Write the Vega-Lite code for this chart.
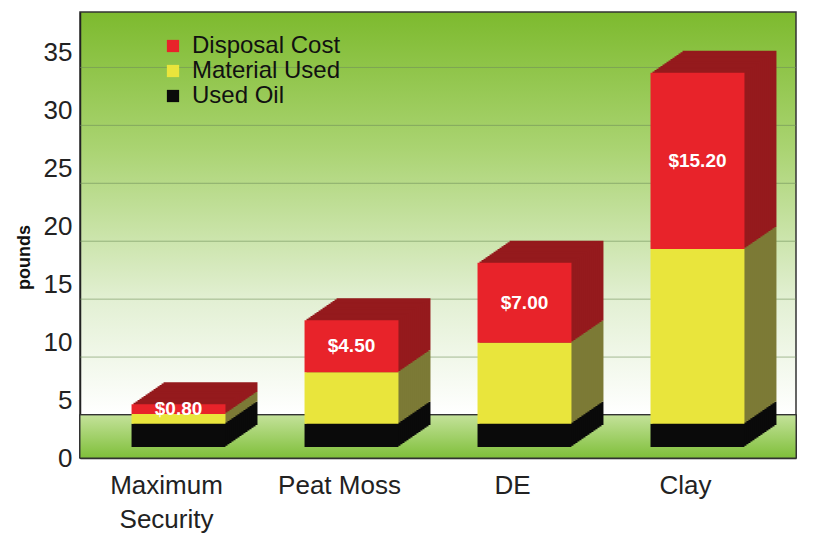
{
  "$schema": "https://vega.github.io/schema/vega-lite/v6.json",
  "width": 716,
  "height": 446,
  "autosize": "none",
  "padding": {"left": 80, "top": 12, "right": 28, "bottom": 77},
  "background": "white",
  "config": {
    "font": "Liberation Sans",
    "view": {
      "stroke": "#333",
      "strokeWidth": 1.5,
      "fill": {"gradient": "linear", "x1": 0, "y1": 0, "x2": 0, "y2": 1,
        "stops": [{"offset": 0, "color": "#7DBA2E"}, {"offset": 0.3, "color": "#A9D370"}, {"offset": 0.65, "color": "#E3F0D4"}, {"offset": 0.9, "color": "#FFFFFF"}, {"offset": 1, "color": "#FFFFFF"}]}
    }
  },
  "data": {
    "values": [
      {"cat": "Maximum Security", "type": "Used Oil", "value": 2},
      {"cat": "Maximum Security", "type": "Material Used", "value": 0.85},
      {"cat": "Maximum Security", "type": "Disposal Cost", "value": 0.85, "cost": "$0.80"},
      {"cat": "Peat Moss", "type": "Used Oil", "value": 2},
      {"cat": "Peat Moss", "type": "Material Used", "value": 4.45},
      {"cat": "Peat Moss", "type": "Disposal Cost", "value": 4.5, "cost": "$4.50"},
      {"cat": "DE", "type": "Used Oil", "value": 2},
      {"cat": "DE", "type": "Material Used", "value": 7},
      {"cat": "DE", "type": "Disposal Cost", "value": 6.9, "cost": "$7.00"},
      {"cat": "Clay", "type": "Used Oil", "value": 2},
      {"cat": "Clay", "type": "Material Used", "value": 15.1},
      {"cat": "Clay", "type": "Disposal Cost", "value": 15.2, "cost": "$15.20"}
    ]
  },
  "resolve": {"scale": {"color": "independent"}},
  "layer": [
    {
      "mark": {"type": "rect", "color": {"gradient": "linear", "x1": 0, "y1": 0, "x2": 0, "y2": 1, "stops": [{"offset": 0, "color": "#C4E29A"}, {"offset": 1, "color": "#7FBF3A"}]}, "stroke": "#333", "strokeWidth": 1},
      "encoding": {
        "y": {"datum": 0, "type": "quantitative", "scale": {"domain": [0, 38.5], "nice": false}},
        "y2": {"datum": 3.72}
      }
    },
    {
      "data": {"values": [{"v": 5}, {"v": 10}, {"v": 15}, {"v": 20}, {"v": 25}, {"v": 30}]},
      "mark": {"type": "rule", "yOffset": -43, "color": "#6F8F5A", "strokeWidth": 1, "opacity": 0.6},
      "encoding": {
        "y": {"field": "v", "type": "quantitative"}
      }
    },
    {
      "layer": [
        {"mark": {"type": "bar", "xOffset": 32, "yOffset": -33}},
        {"mark": {"type": "bar", "xOffset": 30, "yOffset": -31.625}},
        {"mark": {"type": "bar", "xOffset": 28, "yOffset": -30.25}},
        {"mark": {"type": "bar", "xOffset": 26, "yOffset": -28.875}},
        {"mark": {"type": "bar", "xOffset": 24, "yOffset": -27.5}},
        {"mark": {"type": "bar", "xOffset": 22, "yOffset": -26.125}},
        {"mark": {"type": "bar", "xOffset": 20, "yOffset": -24.75}},
        {"mark": {"type": "bar", "xOffset": 18, "yOffset": -23.375}},
        {"mark": {"type": "bar", "xOffset": 16, "yOffset": -22}},
        {"mark": {"type": "bar", "xOffset": 14, "yOffset": -20.625}},
        {"mark": {"type": "bar", "xOffset": 12, "yOffset": -19.25}},
        {"mark": {"type": "bar", "xOffset": 10, "yOffset": -17.875}},
        {"mark": {"type": "bar", "xOffset": 8, "yOffset": -16.5}},
        {"mark": {"type": "bar", "xOffset": 6, "yOffset": -15.125}},
        {"mark": {"type": "bar", "xOffset": 4, "yOffset": -13.75}},
        {"mark": {"type": "bar", "xOffset": 2, "yOffset": -12.375}}
      ],
      "encoding": {
        "x": {"field": "cat", "type": "nominal", "sort": ["Maximum Security", "Peat Moss", "DE", "Clay"], "title": null,
          "scale": {"paddingInner": 0.457, "paddingOuter": 0.298},
          "axis": {"labelAngle": 0, "ticks": false, "domain": true, "domainColor": "#222", "domainWidth": 1.5, "labelFontSize": 26, "labelColor": "#222", "labelPadding": 14, "labelOffset": -12, "labelLineHeight": 34, "labelBaseline": "top",
            "labelExpr": "datum.label == 'Maximum Security' ? ['Maximum', 'Security'] : datum.label"}},
        "y": {"field": "value", "type": "quantitative", "stack": "zero"},
        "color": {"field": "type", "type": "nominal", "scale": {"domain": ["Disposal Cost", "Material Used", "Used Oil"], "range": ["#951A1D", "#7C7A36", "#0A0A0A"]}, "legend": null},
        "order": {"field": "type", "sort": "descending"}
      }
    },
    {
      "mark": {"type": "bar", "yOffset": -11},
      "encoding": {
        "x": {"field": "cat", "type": "nominal", "sort": ["Maximum Security", "Peat Moss", "DE", "Clay"], "title": null,
          "axis": {"labelAngle": 0, "ticks": false, "domain": true, "domainColor": "#222", "domainWidth": 1.5, "labelFontSize": 26, "labelColor": "#222", "labelPadding": 14, "labelOffset": -12, "labelLineHeight": 34, "labelBaseline": "top",
            "labelExpr": "datum.label == 'Maximum Security' ? ['Maximum', 'Security'] : datum.label"}},
        "y": {"field": "value", "type": "quantitative", "stack": "zero", "title": "pounds",
          "axis": {"values": [0, 5, 10, 15, 20, 25, 30, 35], "grid": false, "ticks": false, "domainColor": "#222", "domainWidth": 1.5, "labelFontSize": 26, "labelColor": "#222", "labelPadding": 8, "titleFontSize": 18, "titleFontWeight": "bold", "titleColor": "#111", "titlePadding": 10, "titleY": 245}},
        "color": {"field": "type", "type": "nominal", "title": null,
          "scale": {"domain": ["Disposal Cost", "Material Used", "Used Oil"], "range": ["#E8232A", "#E9E53C", "#0A0A0A"]},
          "legend": {"orient": "none", "legendX": 81, "legendY": 22, "symbolType": "square", "symbolSize": 150, "symbolStrokeWidth": 0, "labelFontSize": 24, "labelColor": "#111", "rowPadding": 1, "labelOffset": 7, "symbolOpacity": 1}},
        "order": {"field": "type", "sort": "descending"}
      }
    },
    {
      "transform": [
        {"stack": "value", "groupby": ["cat"], "sort": [{"field": "type", "order": "descending"}], "as": ["v0", "v1"]},
        {"filter": "datum.type == 'Disposal Cost'"},
        {"calculate": "(datum.v0 + datum.v1) / 2", "as": "mid"}
      ],
      "mark": {"type": "text", "yOffset": -11, "color": "white", "fontWeight": "bold", "fontSize": 19, "baseline": "middle"},
      "encoding": {
        "x": {"field": "cat", "type": "nominal", "sort": ["Maximum Security", "Peat Moss", "DE", "Clay"]},
        "y": {"field": "mid", "type": "quantitative"},
        "text": {"field": "cost"}
      }
    }
  ]
}
